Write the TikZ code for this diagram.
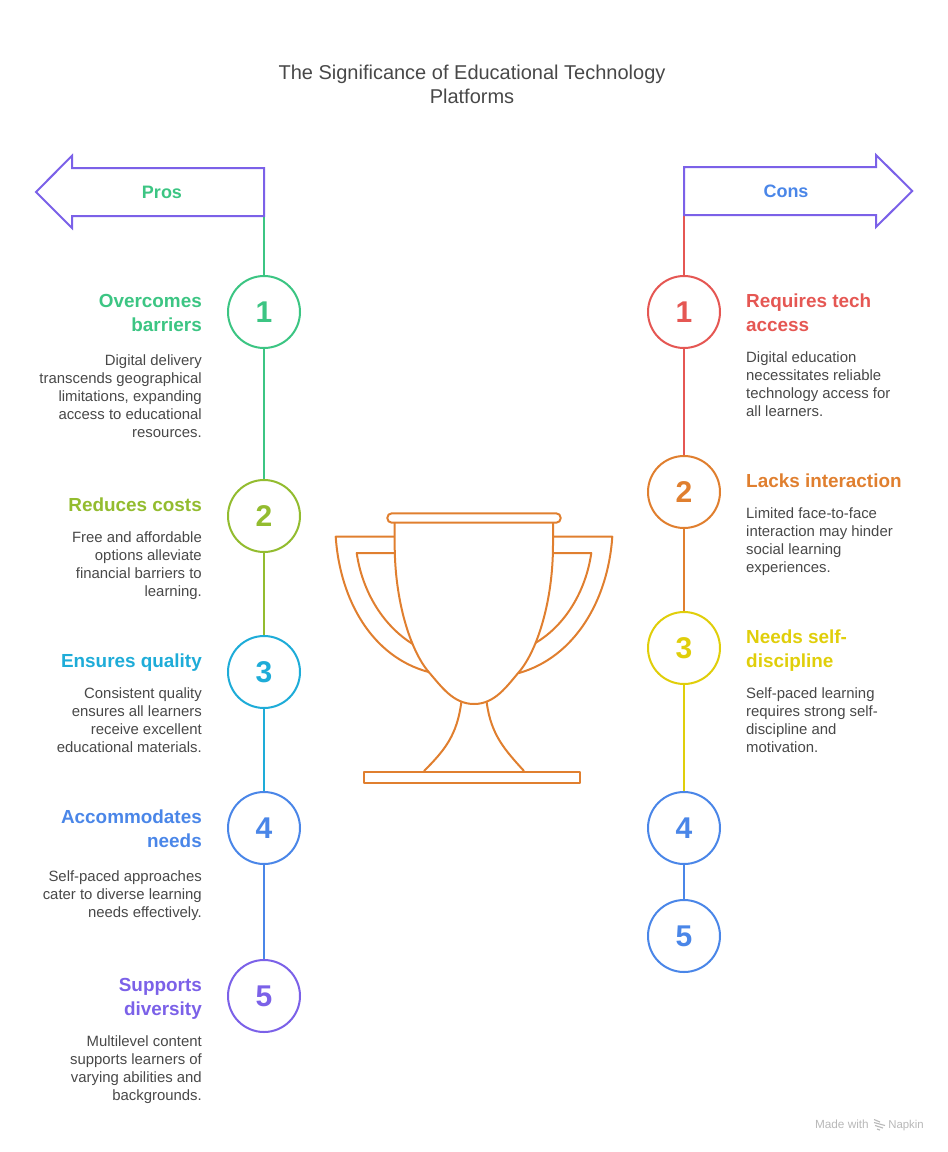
\documentclass[tikz,border=0pt]{standalone}
\usepackage{fontspec}
\setmainfont{Liberation Sans}
\definecolor{cgreen}{HTML}{3CC583}
\definecolor{colive}{HTML}{93BC2F}
\definecolor{ccyan}{HTML}{1EACD8}
\definecolor{cblue}{HTML}{4A86E8}
\definecolor{cpurple}{HTML}{7B61E8}
\definecolor{cred}{HTML}{E55753}
\definecolor{corange}{HTML}{E07F2F}
\definecolor{cyellow}{HTML}{E0CE0A}
\definecolor{ctext}{HTML}{484848}
\definecolor{cmark}{HTML}{B8B8B8}
\tikzset{
  x=1pt,y=-1pt,
  num/.style={circle,draw=#1,text=#1,line width=2pt,fill=white,minimum size=72pt,inner sep=0pt,
    font=\fontsize{30}{36}\selectfont\bfseries},
  link/.style={draw=#1,line width=2pt},
  arrowbox/.style={draw=cpurple,line width=2pt,line join=miter},
  head/.style={text=#1,inner sep=0pt,font=\fontsize{18.9}{24}\selectfont\bfseries},
  headl/.style={head=#1,anchor=north east,align=right},
  headr/.style={head=#1,anchor=north west,align=left},
  body/.style={text=ctext,inner sep=0pt,font=\fontsize{14.9}{18}\selectfont},
  bodyl/.style={body,anchor=north east,align=right},
  bodyr/.style={body,anchor=north west,align=left},
  cup/.style={draw=corange,line width=2pt,line join=round},
  side/.style={inner sep=0pt,font=\fontsize{18}{24}\selectfont\bfseries},
  wmark/.style={text=cmark,inner sep=0pt,anchor=base east,font=\fontsize{11.8}{14}\selectfont},
}
\begin{document}
\begin{tikzpicture}
\useasboundingbox (0,0) rectangle (948,1152);
\node[text=ctext,inner sep=0pt,align=center,font=\fontsize{20}{24}\selectfont] (title) at (472,84) {The Significance of Educational Technology\\Platforms};

% trophy
\draw[cup] (394.7,536.7) -- (335.7,536.7) .. controls (340,600) and (372,657) .. (428.7,672);
\draw[cup] (394.7,553) -- (356.7,553) .. controls (362,590) and (382,625) .. (412.7,644);
\draw[cup] (553,536.7) -- (612.3,536.7) .. controls (608,600) and (575,657) .. (519,673);
\draw[cup] (553,553) -- (591.3,553) .. controls (586,590) and (566,625) .. (535.3,643);
\draw[cup] (394.7,522.7) -- (394.7,545) .. controls (394.7,600) and (410,650) .. (428.7,672) .. controls (441,686) and (453,704) .. (474,704) .. controls (495,704) and (507,686) .. (519,672) .. controls (537.7,650) and (553,600) .. (553,545) -- (553,522.7);
\draw[cup,rounded corners=4.5pt] (387.3,513.3) rectangle (560.7,522.7);
\draw[cup] (461.3,702.3) .. controls (457,735) and (445,750) .. (424,771);
\draw[cup] (486.7,702.3) .. controls (491,735) and (505,750) .. (524,771);
\draw[cup] (363.7,771.5) rectangle (580.3,782.5);

% circles
\node[num=cgreen] (l1) at (264,312) {1};
\node[num=colive] (l2) at (264,516) {2};
\node[num=ccyan] (l3) at (264,672) {3};
\node[num=cblue] (l4) at (264,828) {4};
\node[num=cpurple] (l5) at (264,996) {5};
\node[num=cred] (r1) at (684,312) {1};
\node[num=corange] (r2) at (684,492) {2};
\node[num=cyellow] (r3) at (684,648) {3};
\node[num=cblue] (r4) at (684,828) {4};
\node[num=cblue] (r5) at (684,936) {5};

% side arrows
\coordinate (pb) at (264,216);
\coordinate (cb) at (684,215);
\draw[link=cgreen] (pb) -- (l1);
\draw[link=cgreen] (l1) -- (l2);
\draw[link=colive] (l2) -- (l3);
\draw[link=ccyan] (l3) -- (l4);
\draw[link=cblue] (l4) -- (l5);
\draw[link=cred] (cb) -- (r1);
\draw[link=cred] (r1) -- (r2);
\draw[link=corange] (r2) -- (r3);
\draw[link=cyellow] (r3) -- (r4);
\draw[link=cblue] (r4) -- (r5);
\draw[arrowbox] (pb) -- (264,168) -- (72,168) -- (72,155.7) -- (36,192) -- (72,228) -- (72,216) -- cycle;
\draw[arrowbox] (cb) -- (684,167) -- (876,167) -- (876,155) -- (912.3,191) -- (876,227) -- (876,215) -- cycle;
\node[side,text=cgreen] (pros) at (162,192) {Pros};
\node[side,text=cblue] (cons) at (786,191) {Cons};

% left texts
\node[headl=cgreen] (h1) at (202,294) {Overcomes\\barriers};
\node[bodyl] (b1) at (202,354) {Digital delivery\\transcends geographical\\limitations, expanding\\access to educational\\resources.};
\node[headl=colive] (h2) at (202,498) {Reduces costs};
\node[bodyl] (b2) at (202,531) {Free and affordable\\options alleviate\\financial barriers to\\learning.};
\node[headl=ccyan] (h3) at (202,654) {Ensures quality};
\node[bodyl] (b3) at (202,687) {Consistent quality\\ensures all learners\\receive excellent\\educational materials.};
\node[headl=cblue] (h4) at (202,810) {Accommodates\\needs};
\node[bodyl] (b4) at (202,870) {Self-paced approaches\\cater to diverse learning\\needs effectively.};
\node[headl=cpurple] (h5) at (202,978) {Supports\\diversity};
\node[bodyl] (b5) at (202,1035) {Multilevel content\\supports learners of\\varying abilities and\\backgrounds.};

% right texts
\node[headr=cred] (h6) at (746,294) {Requires tech\\access};
\node[bodyr] (b6) at (746,351) {Digital education\\necessitates reliable\\technology access for\\all learners.};
\node[headr=corange] (h7) at (746,474) {Lacks interaction};
\node[bodyr] (b7) at (746,507) {Limited face-to-face\\interaction may hinder\\social learning\\experiences.};
\node[headr=cyellow] (h8) at (746,630) {Needs self-\\discipline};
\node[bodyr] (b8) at (746,687) {Self-paced learning\\requires strong self-\\discipline and\\motivation.};

% watermark
\node[wmark,font=\fontsize{11.4}{14}\selectfont] (wm2) at (924,1128) {Napkin};
\node[wmark] (wm1) at (869,1128) {Made with};
\draw[cmark,line width=1.1pt] (874,1119.5) -- (880,1122) (874,1122.5) -- (885,1125.5) (875,1125.5) -- (883,1128) (877,1129) -- (880,1130);
\end{tikzpicture}
\end{document}
